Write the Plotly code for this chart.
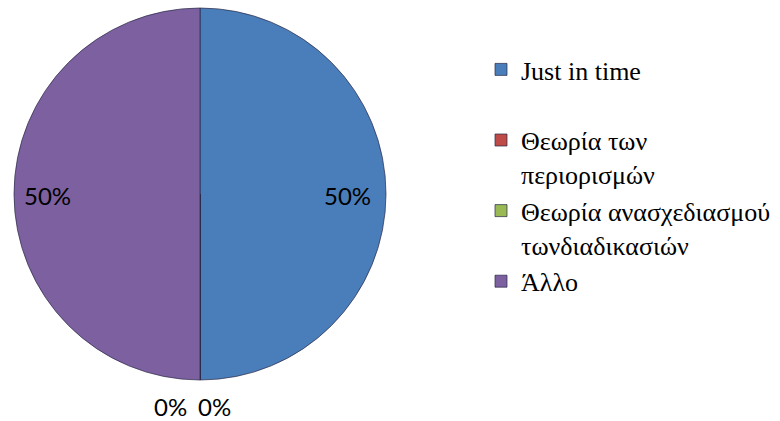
import plotly.graph_objects as go

labels = ["Just in time<br> ", "Θεωρία των<br>περιορισμών", "Θεωρία ανασχεδιασμού<br>τωνδιαδικασιών", "Άλλο"]
values = [50, 0, 0, 50]
colors = ["#4a7ebb", "#be4b48", "#98b954", "#7d60a0"]

W, H = 780, 421
# label anchor positions (pixels) for each slice's percentage text (style, not data)
label_px = [(347, 195), (170, 406), (214, 406), (47, 195)]

total = sum(values)
pct_text = [f"{v / total:.0%}" for v in values]

fig = go.Figure(go.Pie(
    labels=labels,
    values=values,
    sort=False,
    direction="clockwise",
    rotation=0,
    marker=dict(colors=colors, line=dict(color="rgba(40,40,70,0.7)", width=1)),
    textinfo="none",
    domain=dict(x=[14/W, 386/W], y=[1-380/H, 1-8/H]),
    showlegend=True,
))

for t, (px, py) in zip(pct_text, label_px):
    fig.add_annotation(
        x=px / W, y=1 - py / H, xref="paper", yref="paper",
        text=t, showarrow=False, xanchor="center", yanchor="middle",
        font=dict(family="Lato, Open Sans, sans-serif", size=24, color="#000000"),
    )

fig.update_layout(
    width=W, height=H,
    margin=dict(l=0, r=0, t=0, b=0),
    paper_bgcolor="white",
    legend=dict(
        x=481/W, y=1-46/H, xanchor="left", yanchor="top",
        font=dict(family="Liberation Serif", size=26, color="#000000"),
        valign="top",
        tracegroupgap=0,
        itemwidth=30,
    ),
)

fig.write_html("out.html")
